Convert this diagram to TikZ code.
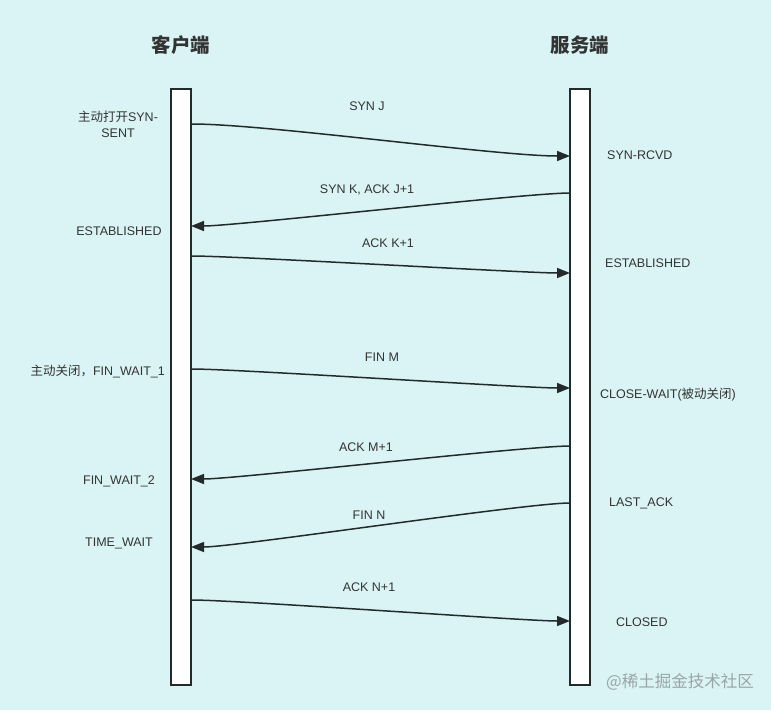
\documentclass[tikz,border=0pt]{standalone}
\usepackage{fontspec}
\setmainfont{Liberation Sans}
\newfontfamily\cjk{Noto Sans CJK SC}
\usetikzlibrary{arrows.meta}
\definecolor{bgc}{HTML}{DAF4F5}
\definecolor{ink}{HTML}{333333}
\definecolor{lnc}{HTML}{222A2C}
\definecolor{wmk}{HTML}{9AA5A8}
\begin{document}
\begin{tikzpicture}[x=1pt,y=-1pt,
  lifeline/.style={draw=lnc,line width=2pt,fill=white,minimum width=20pt,minimum height=596pt,inner sep=0pt},
  msg/.style={draw=lnc,line width=1.5pt,-{Triangle[length=13pt,width=10pt]}},
  lbl/.style={font=\fontsize{12.5}{15}\selectfont,text=ink,inner sep=0pt},
  head/.style={font=\fontsize{19.5}{22}\selectfont\cjk\bfseries,text=ink,inner sep=0pt}]
\fill[bgc] (0,0) rectangle (771,710);
\useasboundingbox (0,0) rectangle (771,710);
% headers
\node[head] (hc) at (181,45) {客户端};
\node[head] (hs) at (580,45) {服务端};
% lifelines
\node[lifeline] (cl) at (181,387) {};
\node[lifeline] (sv) at (580,387) {};
% endpoints
\coordinate (a1) at (192,124); \coordinate (b1) at (570,156);
\coordinate (a2) at (570,193); \coordinate (b2) at (191,226);
\coordinate (a3) at (192,256); \coordinate (b3) at (570,273);
\coordinate (a4) at (192,369); \coordinate (b4) at (570,388);
\coordinate (a5) at (570,446); \coordinate (b5) at (191,479);
\coordinate (a6) at (570,503); \coordinate (b6) at (191,547);
\coordinate (a7) at (192,600); \coordinate (b7) at (570,621);
% messages
\draw[msg] (a1) to[out=0,in=180,looseness=0.5] (b1);
\draw[msg] (a2) to[out=180,in=0,looseness=0.3] (b2);
\draw[msg] (a3) to[out=0,in=180,looseness=0.3] (b3);
\draw[msg] (a4) to[out=0,in=180,looseness=0.3] (b4);
\draw[msg] (a5) to[out=180,in=0,looseness=0.3] (b5);
\draw[msg] (a6) to[out=180,in=0,looseness=0.3] (b6);
\draw[msg] (a7) to[out=0,in=180,looseness=0.3] (b7);
% message labels
\node[lbl] (m1) at (367,106) {SYN J};
\node[lbl] (m2) at (367,190) {SYN K, ACK J+1};
\node[lbl] (m3) at (388,243) {ACK K+1};
\node[lbl] (m4) at (382,357) {FIN M};
\node[lbl] (m5) at (366,447) {ACK M+1};
\node[lbl] (m6) at (369,515) {FIN N};
\node[lbl] (m7) at (369,587) {ACK N+1};
% client states
\node[lbl,align=center] (c1) at (118,124) {{\cjk 主动打开}SYN-\\[1pt]SENT};
\node[lbl] (c2) at (119,231) {ESTABLISHED};
\node[lbl,anchor=east] (c3) at (165,372) {{\cjk 主动关闭，}FIN\_WAIT\_1};
\node[lbl] (c4) at (119,481) {FIN\_WAIT\_2};
\node[lbl] (c5) at (119,543) {TIME\_WAIT};
% server states
\node[lbl,anchor=west] (s1) at (607,155) {SYN-RCVD};
\node[lbl,anchor=west] (s2) at (605,263) {ESTABLISHED};
\node[lbl,anchor=west] (s3) at (600,395) {CLOSE-WAIT({\cjk 被动关闭})};
\node[lbl,anchor=west] (s4) at (609,503) {LAST\_ACK};
\node[lbl,anchor=west] (s5) at (616,622) {CLOSED};
% watermark
\node[lbl,anchor=west,text=wmk,font=\fontsize{16.5}{18}\selectfont\cjk] (wm) at (606,682) {@稀土掘金技术社区};
\end{tikzpicture}
\end{document}
